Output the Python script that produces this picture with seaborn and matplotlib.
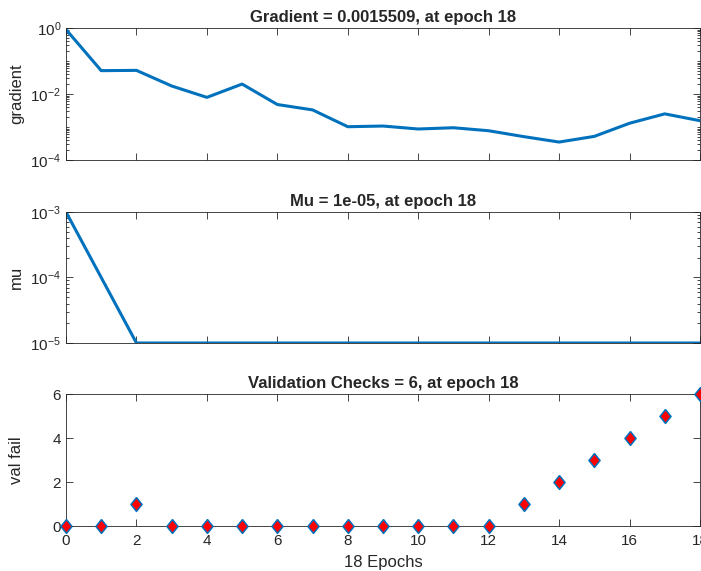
import numpy as np
import pandas as pd
import matplotlib
matplotlib.use("Agg")
import matplotlib.pyplot as plt
from matplotlib.ticker import LogLocator, FixedLocator, NullFormatter
import seaborn as sns

# Training record values per epoch
epochs = list(range(19))
gradient = [0.9, 0.051, 0.052, 0.0175, 0.0079, 0.020, 0.0048, 0.0033, 0.00102,
            0.00107, 0.00087, 0.00095, 0.00077, 0.00051, 0.00035, 0.00052,
            0.0013, 0.0025, 0.0015509]
mu = [1e-3, 1e-4] + [1e-5] * 17
val_fail = [0, 0, 1, 0, 0, 0, 0, 0, 0, 0, 0, 0, 0, 1, 2, 3, 4, 5, 6]

x_ticks = list(range(0, 19, 2))

sns.set_style("ticks")
plt.rcParams["font.family"] = ["Liberation Sans", "DejaVu Sans"]
plt.rcParams["mathtext.fontset"] = "custom"
plt.rcParams["mathtext.rm"] = "Liberation Sans"
plt.rcParams["mathtext.it"] = "Liberation Sans:italic"
plt.rcParams["mathtext.bf"] = "Liberation Sans:bold"
plt.rcParams["axes.unicode_minus"] = False

df = pd.DataFrame({"epoch": epochs, "gradient": gradient, "mu": mu, "val_fail": val_fail})

blue = (0.0, 0.447, 0.741)
W, H = 701, 571
fig = plt.figure(figsize=(W / 100, H / 100), dpi=100)

def rect(left, top, right, bottom):
    return [left / W, 1 - bottom / H, (right - left) / W, (bottom - top) / H]

ax1 = fig.add_axes(rect(66, 28, 700, 160))
ax2 = fig.add_axes(rect(66, 212, 700, 343))
ax3 = fig.add_axes(rect(66, 394, 700, 526))

def style(ax, show_xlabels):
    ax.set_xlim(0, 18)
    ax.xaxis.set_major_locator(FixedLocator(x_ticks))
    ax.tick_params(which="both", direction="in", top=True, right=True,
                   labelsize=11, color="#262626", labelcolor="#262626", width=0.6)
    ax.tick_params(which="major", length=5)
    ax.tick_params(which="minor", length=2.5)
    ax.tick_params(axis="x", pad=6)
    if not show_xlabels:
        ax.tick_params(axis="x", labelbottom=False)
    for s in ax.spines.values():
        s.set_visible(True)
        s.set_linewidth(0.6)
        s.set_color("#262626")

# Gradient
sns.lineplot(data=df, x="epoch", y="gradient", ax=ax1, color=blue, linewidth=2.2)
ax1.set_yscale("log")
ax1.set_ylim(1e-4, 1)
ax1.yaxis.set_major_locator(FixedLocator([1e-4, 1e-2, 1]))
ax1.yaxis.set_minor_locator(LogLocator(base=10, subs=np.arange(1, 10), numticks=20))
ax1.yaxis.set_minor_formatter(NullFormatter())
ax1.set_title("Gradient = 0.0015509, at epoch 18", fontsize=12, fontweight="bold", pad=4)
ax1.set_ylabel("gradient", fontsize=12)
ax1.set_xlabel("")
style(ax1, False)

# Mu
sns.lineplot(data=df, x="epoch", y="mu", ax=ax2, color=blue, linewidth=2.2)
ax2.set_yscale("log")
ax2.set_ylim(1e-5, 1e-3)
ax2.yaxis.set_major_locator(FixedLocator([1e-5, 1e-4, 1e-3]))
ax2.yaxis.set_minor_locator(LogLocator(base=10, subs=np.arange(2, 10), numticks=20))
ax2.yaxis.set_minor_formatter(NullFormatter())
ax2.set_title("Mu = 1e-05, at epoch 18", fontsize=12, fontweight="bold", pad=4)
ax2.set_ylabel("mu", fontsize=12)
ax2.set_xlabel("")
style(ax2, False)

# Validation checks: diamond markers, red fill with blue outline
diamond = [(0, 1), (0.8, 0), (0, -1), (-0.8, 0), (0, 1)]
sns.scatterplot(data=df, x="epoch", y="val_fail", ax=ax3, marker=diamond, s=100,
                color="red", edgecolor=blue, linewidth=1.1, clip_on=False, zorder=5)
ax3.set_ylim(0, 6)
ax3.yaxis.set_major_locator(FixedLocator([0, 2, 4, 6]))
ax3.set_title("Validation Checks = 6, at epoch 18", fontsize=12, fontweight="bold", pad=4)
ax3.set_ylabel("val fail", fontsize=12)
ax3.set_xlabel("18 Epochs", fontsize=12)
ax3.xaxis.set_label_coords(0.5, -0.22)
style(ax3, True)

for ax in (ax1, ax2, ax3):
    ax.yaxis.set_label_coords(-0.066, 0.5)

fig.savefig("out.png", dpi=100, facecolor="white")
